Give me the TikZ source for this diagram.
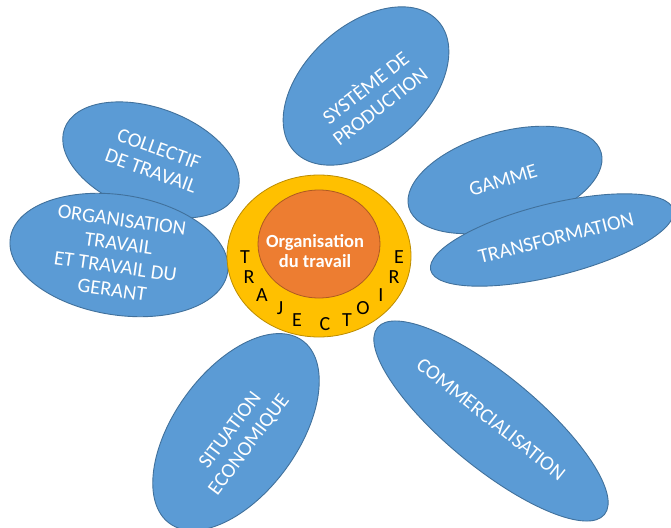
\documentclass[tikz,border=0pt]{standalone}
\usepackage{fontspec}
\setmainfont{Carlito}
\usetikzlibrary{shapes.geometric}
\definecolor{petal}{HTML}{5B9BD5}
\definecolor{petalline}{HTML}{41719C}
\definecolor{ring}{HTML}{FFC000}
\definecolor{ringline}{HTML}{BC8C00}
\definecolor{core}{HTML}{ED7D31}
\definecolor{coreline}{HTML}{AE5A21}
\tikzset{
  blob/.style={ellipse, draw=petalline, fill=petal, line width=0.9pt, inner sep=0pt},
  blobtxt/.style={text=white, align=center, inner sep=0pt, font=\fontsize{20.5}{23.5}\selectfont},
  ringletter/.style={inner sep=0pt, font=\fontsize{20}{22}\selectfont},
}
\begin{document}
\begin{tikzpicture}[x=1pt,y=-1pt]
\useasboundingbox (0,0) rectangle (671,527);
% petals
\node[blob, minimum width=194, minimum height=122, rotate=42] (prod) at (366,86) {};
\node[blob, minimum width=184, minimum height=104, rotate=-20] (coll) at (151,160) {};
\node[blob, minimum width=220, minimum height=120, rotate=-9] (orgt) at (119,255) {};
\node[blob, minimum width=200, minimum height=96, rotate=16] (gam) at (505,180) {};
\node[blob, minimum width=250, minimum height=72, rotate=14] (tra) at (552,240) {};
\node[blob, minimum width=226, minimum height=124, rotate=54] (sit) at (236,432) {};
\node[blob, minimum width=294, minimum height=92, rotate=-39.5] (com) at (491,421) {};
% petal texts
\node[blobtxt, rotate=38] at ([shift={(6,10)}]prod.center) {SYSTÈME DE\\PRODUCTION};
\node[blobtxt, rotate=-20] at ([shift={(4,0)}]coll.center) {COLLECTIF\\DE TRAVAIL};
\node[blobtxt, rotate=-8] at ([shift={(-2,0)}]orgt.center) {ORGANISATION\\TRAVAIL\\ET TRAVAIL DU\\GERANT};
\node[blobtxt, rotate=17] at ([shift={(-2,0)}]gam.center) {GAMME};
\node[blobtxt, rotate=14] at ([shift={(4,-2)}]tra.center) {TRANSFORMATION};
\node[blobtxt, rotate=53] at ([shift={(4,6)}]sit.center) {SITUATION\\ECONOMIQUE};
\node[blobtxt, rotate=-38.5] at ([shift={(0,-2)}]com.center) {COMMERCIALISATION};
% centre
\node[ellipse, draw=ringline, fill=ring, line width=0.8pt, minimum width=184, minimum height=162, inner sep=0pt] (outer) at (319,256) {};
\node[ellipse, draw=coreline, fill=core, line width=0.8pt, minimum width=122, minimum height=108, inner sep=0pt] (inner) at (319,244) {};
\node[text=white, align=center, inner sep=0pt, font=\bfseries\fontsize{18.5}{20}\selectfont] (title) at (315,251) {Organisation\\du travail};
% TRAJECTOIRE letters
\node[ringletter] (l1) at (245,257) {T};
\node[ringletter] (l2) at (249,277) {R};
\node[ringletter] (l3) at (262,295) {A};
\node[ringletter] (l4) at (280,308) {J};
\node[ringletter] (l5) at (297,320) {E};
\node[ringletter] (l6) at (325,324) {C};
\node[ringletter] (l7) at (347,320) {T};
\node[ringletter] (l8) at (363,308) {O};
\node[ringletter] (l9) at (381,295) {I};
\node[ringletter] (l10) at (394,277) {R};
\node[ringletter] (l11) at (399,257) {E};
\end{tikzpicture}
\end{document}
